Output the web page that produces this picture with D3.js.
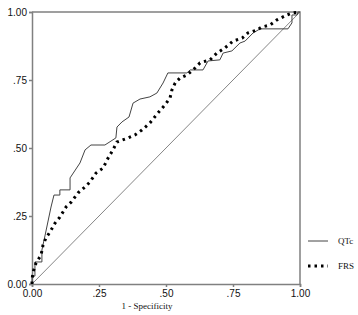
<!DOCTYPE html>
<html>
<head>
<meta charset="utf-8">
<script src="https://cdn.jsdelivr.net/npm/d3@7"></script>
<style>
	body { margin: 0; background: #fff; }
	.tick text { font-family: "Liberation Sans", Arial, sans-serif; font-size: 10px; fill: #111; }
</style>
</head>
<body>
<div id="chart-area"></div>
<script>
// ROC curves: [1 - specificity, sensitivity]
let qtc = [
	[0, 0], [0, 0.029], [0.011, 0.029], [0.011, 0.081], [0.037, 0.081], [0.037, 0.125],
	[0.049, 0.18], [0.071, 0.283], [0.082, 0.327], [0.104, 0.327], [0.104, 0.346],
	[0.142, 0.346], [0.142, 0.39], [0.179, 0.445], [0.198, 0.493], [0.22, 0.511],
	[0.272, 0.511], [0.313, 0.537], [0.317, 0.577], [0.336, 0.596], [0.362, 0.614],
	[0.377, 0.665], [0.403, 0.68], [0.44, 0.688], [0.466, 0.702], [0.489, 0.739],
	[0.507, 0.776], [0.578, 0.776], [0.59, 0.787], [0.638, 0.787], [0.657, 0.82],
	[0.701, 0.824], [0.713, 0.849], [0.746, 0.857], [0.776, 0.886], [0.795, 0.893],
	[0.825, 0.923], [0.851, 0.938], [0.955, 0.938], [0.97, 0.96], [0.97, 0.989],
	[0.989, 0.989], [0.993, 1], [1, 1]
];
let frs = [
	[0, 0], [0, 0.015], [0.004, 0.044], [0.015, 0.077], [0.034, 0.107], [0.041, 0.143],
	[0.052, 0.169], [0.067, 0.191], [0.086, 0.224], [0.104, 0.246], [0.127, 0.283],
	[0.146, 0.301], [0.172, 0.335], [0.198, 0.357], [0.216, 0.375], [0.239, 0.408],
	[0.265, 0.426], [0.284, 0.463], [0.302, 0.493], [0.317, 0.522], [0.336, 0.529],
	[0.358, 0.537], [0.384, 0.548], [0.41, 0.566], [0.44, 0.592], [0.47, 0.629],
	[0.496, 0.658], [0.515, 0.684], [0.522, 0.713], [0.534, 0.739], [0.552, 0.757],
	[0.578, 0.768], [0.601, 0.787], [0.627, 0.813], [0.664, 0.824], [0.69, 0.849],
	[0.72, 0.868], [0.75, 0.893], [0.784, 0.904], [0.806, 0.923], [0.84, 0.934],
	[0.858, 0.945], [0.888, 0.952], [0.914, 0.971], [0.951, 0.989], [0.97, 0.996], [1, 1]
];
let diagonal = [[0, 0], [1, 1]];
let tickValues = [0, 0.25, 0.5, 0.75, 1];
let tickLabels = ["0.00", ".25", ".50", ".75", "1.00"];
let legendNames = ["QTc", "FRS"];

let width = 358,
	height = 315;
let plotLeft = 32, plotRight = 300, plotTop = 12, plotBottom = 284;

let svg = d3.select("#chart-area")
	.append("svg")
	.attr("width", width)
	.attr("height", height);

let x = d3.scaleLinear().domain([0, 1]).range([plotLeft, plotRight]);
let y = d3.scaleLinear().domain([0, 1]).range([plotBottom, plotTop]);

let line = d3.line()
	.x(d => x(d[0]))
	.y(d => y(d[1]));

let axisColor = "#808080";

// frame (top and right)
svg.append("path")
	.attr("d", "M" + plotLeft + "," + plotTop + "H" + plotRight + "V" + plotBottom)
	.attr("fill", "none")
	.attr("stroke", axisColor)
	.attr("stroke-width", 1.5);

let fmt = v => tickLabels[tickValues.indexOf(v)];

let xAxis = d3.axisBottom(x).tickValues(tickValues).tickFormat(fmt).tickSize(3).tickPadding(3);
let yAxis = d3.axisLeft(y).tickValues(tickValues).tickFormat(fmt).tickSize(3).tickPadding(2);

svg.append("g")
	.attr("transform", "translate(0," + plotBottom + ")")
	.call(xAxis)
	.call(g => g.selectAll("path, line").attr("stroke", axisColor).attr("stroke-width", 1.5));

svg.append("g")
	.attr("transform", "translate(" + plotLeft + ",0)")
	.call(yAxis)
	.call(g => g.selectAll("path, line").attr("stroke", axisColor).attr("stroke-width", 1.5));

svg.append("text")
	.text("1 - Specificity")
	.attr("x", 147)
	.attr("y", 309)
	.attr("text-anchor", "middle")
	.attr("font-family", "Liberation Serif, Times New Roman, serif")
	.attr("font-size", 9)
	.attr("fill", "#111");

// reference diagonal
svg.append("path")
	.datum(diagonal)
	.attr("d", line)
	.attr("fill", "none")
	.attr("stroke", "#666")
	.attr("stroke-width", 0.8);

svg.append("path")
	.datum(qtc)
	.attr("d", line)
	.attr("fill", "none")
	.attr("stroke", "#444")
	.attr("stroke-width", 1);

svg.append("path")
	.datum(frs)
	.attr("d", line)
	.attr("fill", "none")
	.attr("stroke", "#000")
	.attr("stroke-width", 3)
	.attr("stroke-dasharray", "2.5,4");

// legend
let legend = svg.append("g");
legendNames.forEach((name, i) => {
	let ly = 241 + i * 25;
	legend.append("line")
		.attr("x1", 308).attr("x2", 328)
		.attr("y1", ly).attr("y2", ly)
		.attr("stroke", i === 0 ? "#444" : "#000")
		.attr("stroke-width", i === 0 ? 1 : 3)
		.attr("stroke-dasharray", i === 0 ? null : "2.5,4");
	legend.append("text")
		.text(name)
		.attr("x", 338)
		.attr("y", ly + 3)
		.attr("font-family", "Liberation Serif, Times New Roman, serif")
		.attr("font-size", 9)
		.attr("fill", "#111");
});
</script>
</body>
</html>
